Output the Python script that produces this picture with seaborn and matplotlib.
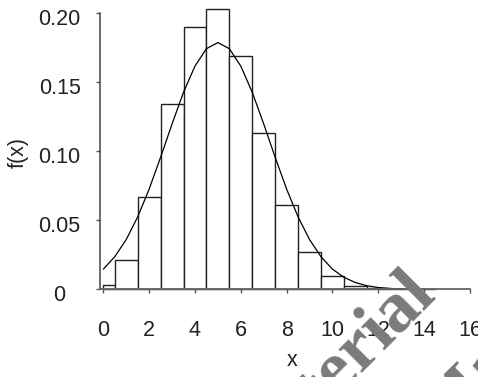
import matplotlib
matplotlib.use('Agg')
import matplotlib.pyplot as plt
import matplotlib.transforms as mtransforms
import seaborn as sns
import pandas as pd

# class values and relative frequencies
classes = [0, 1, 2, 3, 4, 5, 6, 7, 8, 9, 10, 11, 12, 13, 14]
freq = [0.003, 0.021, 0.067, 0.134, 0.190, 0.2025, 0.169, 0.113,
        0.061, 0.027, 0.0096, 0.0024, 0.001, 0.0004, 0.0003]
bin_edges = [0, 0.5, 1.5, 2.5, 3.5, 4.5, 5.5, 6.5, 7.5,
             8.5, 9.5, 10.5, 11.5, 12.5, 13.5, 14.5]

# fitted density curve, read at half-unit steps
curve_x = [0, 0.5, 1, 1.5, 2, 2.5, 3, 3.5, 4, 4.5, 5, 5.5, 6, 6.5, 7,
           7.5, 8, 8.5, 9, 9.5, 10, 10.5, 11, 11.5, 12, 12.5, 13, 13.5, 14]
curve_y = [0.0146, 0.0236, 0.0360, 0.0524, 0.0725, 0.0955, 0.1196, 0.1425,
           0.1614, 0.1740, 0.1784, 0.1740, 0.1614, 0.1425, 0.1196, 0.0955,
           0.0725, 0.0524, 0.0360, 0.0236, 0.0146, 0.0087, 0.0049, 0.0026,
           0.0013, 0.0006, 0.0003, 0.0001, 0.00005]

x_ticks = [0, 2, 4, 6, 8, 10, 12, 14, 16]
y_ticks = [0, 0.05, 0.10, 0.15, 0.20]
y_ticklabels = ['0', '0.05', '0.10', '0.15', '0.20']

hist_df = pd.DataFrame({'x': classes, 'f': freq})
curve_df = pd.DataFrame({'x': curve_x, 'y': curve_y})

sns.set_style('ticks')
plt.rcParams['font.family'] = ['Liberation Sans', 'DejaVu Sans']

fig = plt.figure(figsize=(4.78, 3.77), dpi=100)
ax = fig.add_axes([0.209, 0.2326, 0.774, 0.752])

sns.histplot(data=hist_df, x='x', weights='f', bins=bin_edges, stat='count',
             color='white', edgecolor='#222222', linewidth=1.0, alpha=1,
             ax=ax, clip_on=False)
sns.lineplot(data=curve_df, x='x', y='y', color='black', linewidth=0.9, ax=ax)

ax.set_xlim(-0.15, 16)
ax.set_ylim(0, 0.205)
ax.set_xticks(x_ticks)
ax.set_yticks(y_ticks)
ax.set_yticklabels(y_ticklabels)
ax.set_xlabel('')
ax.set_ylabel('')

sns.despine(ax=ax)
ax.spines['left'].set_bounds(0, 0.2)
ax.spines['left'].set_color('#444444')
ax.spines['bottom'].set_color('#666666')
ax.spines['left'].set_linewidth(1.1)
ax.spines['bottom'].set_linewidth(1.3)

ax.tick_params(axis='x', length=3, width=1, color='#555555', pad=19,
               labelsize=15.5, labelcolor='#222222')
ax.tick_params(axis='y', length=3, width=1, color='#555555', pad=26,
               labelsize=15.5, labelcolor='#222222')
shift = mtransforms.ScaledTranslation(0, -4 / 100, fig.dpi_scale_trans)
for lab in ax.get_yticklabels():
    lab.set_horizontalalignment('center')
    lab.set_transform(lab.get_transform() + shift)

fig.text(18 / 478, 1 - 152 / 377, 'f(x)', rotation=90, ha='center',
         va='center', fontsize=15.5, color='#222222')
fig.text(292 / 478, 1 - 360 / 377, 'x', ha='center', va='center',
         fontsize=15.5, color='#222222')

# watermark overlay
for cx, cy in [(330, 378), (526, 332)]:
    fig.text(cx / 478, 1 - cy / 377, 'Material', rotation=45,
             rotation_mode='anchor', ha='center', va='center',
             fontsize=52, fontweight='bold', family='Liberation Serif',
             color='#7a7a7a', zorder=10)

fig.savefig('out.png', dpi=100)
